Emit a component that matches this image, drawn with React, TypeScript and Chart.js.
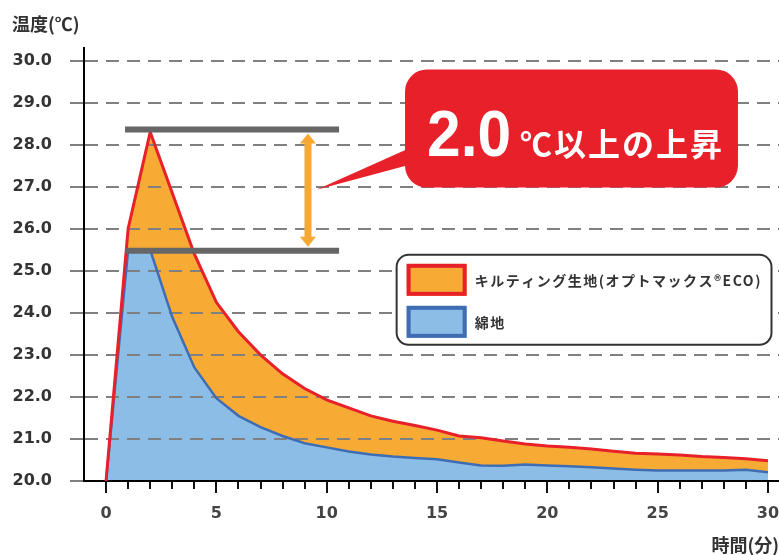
import React, { useEffect, useRef } from 'react';
import { Chart, registerables } from 'chart.js';

Chart.register(...registerables);

// ---- data ----
const MINUTES = [0, 1, 2, 3, 4, 5, 6, 7, 8, 9, 10, 11, 12, 13, 14, 15, 16, 17, 18, 19, 20, 21, 22, 23, 24, 25, 26, 27, 28, 29, 30];
const QUILT_TEMP = [20.0, 26.0, 28.3, 26.85, 25.4, 24.25, 23.55, 23.0, 22.55, 22.2, 21.93, 21.74, 21.55, 21.42, 21.32, 21.21, 21.07, 21.03, 20.95, 20.88, 20.83, 20.8, 20.76, 20.71, 20.66, 20.64, 20.62, 20.58, 20.56, 20.53, 20.48];
const COTTON_TEMP = [20.0, 25.5, 25.5, 23.9, 22.7, 21.97, 21.55, 21.28, 21.07, 20.9, 20.8, 20.7, 20.63, 20.58, 20.55, 20.52, 20.44, 20.37, 20.36, 20.39, 20.37, 20.35, 20.33, 20.3, 20.27, 20.25, 20.25, 20.25, 20.25, 20.27, 20.21];
const SERIES_LABELS = ['キルティング生地(オプトマックス®ECO)', '綿地'];
const Y_TITLE = '温度(℃)';
const X_TITLE = '時間(分)';
const CALLOUT_MAIN = '2.0';
const CALLOUT_SUB = '℃以上の上昇';

// annotation placement, in data units (minutes / ℃)
const REF_LEVELS = [28.36, 25.48];
const REF_SPAN = [0.86, 10.56];
const ARROW_AT = 9.15;
const CALLOUT_BOX = { x0: 13.55, x1: 28.64, y0: 29.79, y1: 26.98 };
const CALLOUT_TIP = { x: 9.54, y: 26.93 };
const CALLOUT_TAIL = [28.0, 27.57];
const LEGEND_BOX = { x0: 13.17, x1: 30.16, y0: 25.38, y1: 23.24 };

// ---- styles ----
const RED = '#e8202a';
const ORANGE = '#f7ab35';
const BLUE_LINE = '#3e6db4';
const BLUE_FILL = '#8cbde6';
const GRID = '#808080';
const CJK = '"Noto Sans CJK JP", "Noto Sans", sans-serif';

const decorPlugin = {
  id: 'decor',
  afterDatasetsDraw(chart: any) {
    const { ctx } = chart;
    const x = chart.scales.x;
    const y = chart.scales.y;
    const px = (v: number) => x.getPixelForValue(v);
    const py = (v: number) => y.getPixelForValue(v);
    ctx.save();

    // reference bars
    ctx.strokeStyle = '#666666';
    ctx.lineWidth = 6;
    ctx.lineCap = 'butt';
    REF_LEVELS.forEach((l) => {
      ctx.beginPath();
      ctx.moveTo(px(REF_SPAN[0]), py(l));
      ctx.lineTo(px(REF_SPAN[1]), py(l));
      ctx.stroke();
    });

    // double arrow
    const ax = px(ARROW_AT);
    const aTop = py(REF_LEVELS[0]) + 4;
    const aBot = py(REF_LEVELS[1]) - 4;
    ctx.fillStyle = '#f6a833';
    ctx.fillRect(ax - 3.5, aTop + 8, 7, aBot - aTop - 16);
    ctx.beginPath();
    ctx.moveTo(ax, aTop);
    ctx.lineTo(ax + 8, aTop + 10);
    ctx.lineTo(ax - 8, aTop + 10);
    ctx.closePath();
    ctx.fill();
    ctx.beginPath();
    ctx.moveTo(ax, aBot);
    ctx.lineTo(ax + 8, aBot - 10);
    ctx.lineTo(ax - 8, aBot - 10);
    ctx.closePath();
    ctx.fill();

    // callout
    const bx0 = px(CALLOUT_BOX.x0);
    const bx1 = px(CALLOUT_BOX.x1);
    const by0 = py(CALLOUT_BOX.y0);
    const by1 = py(CALLOUT_BOX.y1);
    ctx.fillStyle = RED;
    ctx.beginPath();
    ctx.roundRect(bx0, by0, bx1 - bx0, by1 - by0, 22);
    ctx.fill();
    ctx.beginPath();
    ctx.moveTo(px(CALLOUT_TIP.x), py(CALLOUT_TIP.y));
    ctx.lineTo(bx0 + 12, py(CALLOUT_TAIL[0]));
    ctx.lineTo(bx0 + 12, py(CALLOUT_TAIL[1]));
    ctx.closePath();
    ctx.fill();

    ctx.fillStyle = '#ffffff';
    ctx.textBaseline = 'alphabetic';
    ctx.textAlign = 'left';
    ctx.font = 'bold 65px "Liberation Sans", Arial, sans-serif';
    const mw = ctx.measureText(CALLOUT_MAIN).width;
    const targetW = 84;
    ctx.save();
    ctx.translate(bx0 + 22, by0 + 87);
    ctx.scale(targetW / mw, 1);
    ctx.fillText(CALLOUT_MAIN, 0, 0);
    ctx.restore();
    ctx.font = `bold 32px ${CJK}`;
    ctx.textBaseline = 'middle';
    ctx.letterSpacing = '2px';
    ctx.fillText(CALLOUT_SUB, bx0 + 22 + targetW + 9, by0 + 74);
    ctx.letterSpacing = '0px';

    // legend
    const lx0 = px(LEGEND_BOX.x0);
    const lx1 = px(LEGEND_BOX.x1);
    const ly0 = py(LEGEND_BOX.y0);
    const ly1 = py(LEGEND_BOX.y1);
    ctx.fillStyle = '#ffffff';
    ctx.strokeStyle = '#333333';
    ctx.lineWidth = 2;
    ctx.beginPath();
    ctx.roundRect(lx0, ly0, lx1 - lx0, ly1 - ly0, 12);
    ctx.fill();
    ctx.stroke();

    const swatches = [
      { fill: ORANGE, stroke: RED, top: 9 },
      { fill: BLUE_FILL, stroke: BLUE_LINE, top: 51 },
    ];
    ctx.font = `bold 14px ${CJK}`;
    ctx.textBaseline = 'middle';
    ctx.letterSpacing = '1.5px';
    swatches.forEach((s, i) => {
      const sx = lx0 + 10;
      const sy = ly0 + s.top;
      ctx.fillStyle = s.fill;
      ctx.fillRect(sx, sy, 60, 32);
      ctx.strokeStyle = s.stroke;
      ctx.lineWidth = 4;
      ctx.strokeRect(sx + 2, sy + 2, 56, 28);
      ctx.fillStyle = '#333333';
      ctx.fillText(SERIES_LABELS[i], lx0 + 78, sy + 17);
    });
    ctx.letterSpacing = '0px';

    ctx.restore();
  },
  afterDraw(chart: any) {
    const { ctx, chartArea } = chart;
    const x = chart.scales.x;
    ctx.save();
    // x tick marks
    ctx.strokeStyle = '#111111';
    ctx.lineWidth = 2;
    x.ticks.forEach((t: any) => {
      if (t.value < 0) return;
      const p = Math.round(x.getPixelForValue(t.value));
      const len = t.value % 5 === 0 ? 12 : 8;
      ctx.beginPath();
      ctx.moveTo(p, chartArea.bottom);
      ctx.lineTo(p, chartArea.bottom + len);
      ctx.stroke();
    });
    // axis titles
    ctx.fillStyle = '#333333';
    ctx.font = `bold 18px ${CJK}`;
    ctx.textBaseline = 'middle';
    ctx.textAlign = 'left';
    ctx.fillText(Y_TITLE, 12, 24);
    ctx.textAlign = 'right';
    ctx.fillText(X_TITLE, 779, 545);
    ctx.restore();
  },
};

export default function App() {
  const ref = useRef<HTMLCanvasElement | null>(null);

  useEffect(() => {
    if (!ref.current) return;
    const chart = new Chart(ref.current, {
      type: 'line',
      data: {
        datasets: [
          {
            label: SERIES_LABELS[0],
            data: MINUTES.map((m, i) => ({ x: m, y: QUILT_TEMP[i] })),
            borderColor: RED,
            borderWidth: 3,
            backgroundColor: ORANGE,
            fill: '+1',
            pointRadius: 0,
            tension: 0,
          },
          {
            label: SERIES_LABELS[1],
            data: MINUTES.map((m, i) => ({ x: m, y: COTTON_TEMP[i] })),
            borderColor: BLUE_LINE,
            borderWidth: 2.5,
            backgroundColor: BLUE_FILL,
            fill: 'start',
            pointRadius: 0,
            tension: 0,
          },
        ],
      },
      options: {
        animation: false,
        responsive: false,
        devicePixelRatio: 1,
        layout: { padding: { top: 48, right: 0, left: 0, bottom: 0 } },
        plugins: {
          legend: { display: false },
          tooltip: { enabled: false },
          filler: { drawTime: 'beforeDraw' },
        },
        scales: {
          x: {
            type: 'linear',
            min: -1,
            max: 30.5,
            z: 1,
            afterFit: (s: any) => {
              s.height = 74;
              s.paddingLeft = 0;
              s.paddingRight = 0;
            },
            grid: { display: false },
            border: { display: true, color: '#000000', width: 2 },
            ticks: {
              stepSize: 1,
              includeBounds: false,
              autoSkip: false,
              maxRotation: 0,
              padding: 15,
              color: '#444444',
              font: { family: '"DejaVu Sans", sans-serif', weight: 'bold', size: 16 },
              callback: (v: any) => (v >= 0 && v % 5 === 0 ? String(v) : ''),
            },
          },
          y: {
            type: 'linear',
            min: 20,
            max: 30.3,
            afterFit: (s: any) => {
              s.width = 84;
              s.paddingTop = 0;
              s.paddingBottom = 0;
            },
            grid: {
              color: (c: any) => (c.tick && c.tick.value === 20 ? 'rgba(0,0,0,0)' : GRID),
              lineWidth: 2,
              tickLength: 18,
              tickColor: GRID,
              tickWidth: 2,
              tickBorderDash: [14, 8],
              tickBorderDashOffset: 18,
            },
            border: { display: true, color: '#000000', width: 2, dash: [13, 8] },
            ticks: {
              stepSize: 1,
              includeBounds: false,
              padding: 14,
              color: '#333333',
              font: { family: '"DejaVu Sans", sans-serif', weight: 'bold', size: 16 },
              callback: (v: any) => Number(v).toFixed(1),
            },
          },
        },
      },
      plugins: [decorPlugin],
    } as any);
    return () => chart.destroy();
  }, []);

  return (
    <div style={{ position: 'fixed', left: 0, top: 0, width: 779, height: 555, background: '#ffffff' }}>
      <canvas ref={ref} width={779} height={555} style={{ display: 'block', width: 779, height: 555 }} />
    </div>
  );
}
